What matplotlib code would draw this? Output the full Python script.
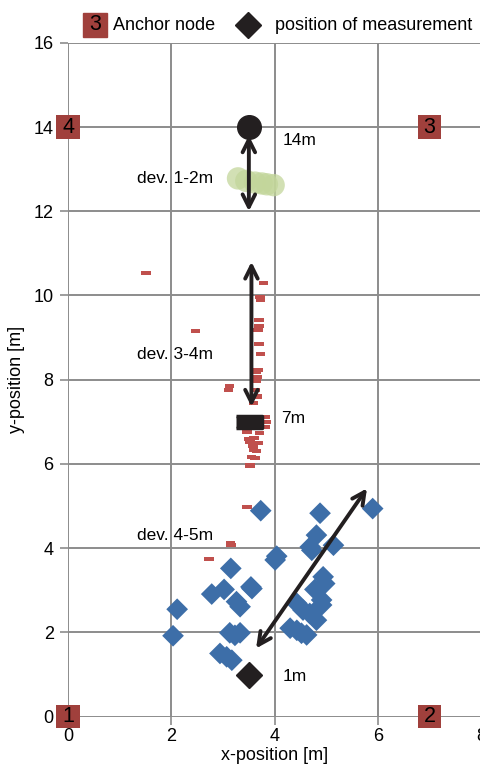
import matplotlib
matplotlib.use("Agg")
import matplotlib.pyplot as plt
from matplotlib.lines import Line2D
from matplotlib.markers import MarkerStyle
import numpy as np

plt.rcParams['font.family'] = ['Liberation Sans', 'DejaVu Sans']

# anchors
anchor_x = [0, 7, 7, 0]
anchor_y = [0, 0, 14, 14]
anchor_lbl = ["1", "2", "3", "4"]

# true measurement positions
meas_x = [3.5, 3.5, 3.5]
meas_y = [1, 7, 14]
meas_lbl = ["1m", "7m", "14m"]

# estimates at 14m (green)
g_x = [3.29, 3.45, 3.62, 3.75, 3.85, 3.98]
g_y = [12.78, 12.72, 12.68, 12.66, 12.64, 12.62]

# estimates at 7m (red)
r_x = [1.51, 3.78, 3.72, 3.73, 2.47, 3.70, 3.70, 3.68, 3.70, 3.73, 3.68, 3.65, 3.66,
       3.64, 3.12, 3.10, 3.62, 3.66, 3.59, 3.81, 3.84, 3.81, 3.46, 3.71, 3.52, 3.68,
       3.59, 3.65, 3.55, 3.62, 3.52, 3.46, 3.15, 3.14, 2.73, 3.60, 3.58, 3.70, 3.50]
r_y = [10.54, 10.30, 9.97, 9.89, 9.15, 9.42, 9.28, 9.18, 8.85, 8.61, 8.23, 8.19, 8.07,
       7.98, 7.85, 7.76, 7.76, 7.60, 7.44, 7.12, 7.00, 6.88, 6.77, 6.73, 6.53, 6.49,
       6.33, 6.30, 6.17, 6.14, 5.96, 4.98, 4.07, 4.11, 3.75, 6.62, 6.42, 6.95, 6.60]

# estimates at 1m (blue)
b_x = [3.73, 4.88, 5.90, 4.81, 4.01, 4.04, 3.15, 3.54, 3.56, 3.02, 2.78, 3.26, 3.33,
       2.11, 2.03, 3.13, 3.33, 3.23, 2.94, 3.07, 3.17, 4.30, 4.43, 4.52, 4.62, 4.43,
       4.55, 4.68, 4.81, 4.78, 4.94, 4.97, 4.91, 4.91, 4.72, 4.69, 5.14]
b_y = [4.89, 4.83, 4.94, 4.31, 3.72, 3.81, 3.52, 3.08, 3.04, 3.02, 2.91, 2.73, 2.61,
       2.55, 1.92, 1.99, 1.99, 1.93, 1.50, 1.42, 1.34, 2.10, 2.05, 1.98, 1.94, 2.69,
       2.53, 2.45, 2.29, 3.02, 3.32, 3.16, 2.77, 2.65, 3.95, 4.03, 4.07]

# deviation arrows
arr_start = [(3.5, 13.8), (3.55, 10.8), (5.79, 5.42)]
arr_end = [(3.5, 12.0), (3.55, 7.36), (3.64, 1.62)]

# annotations
dev_lbl = ["dev. 1-2m", "dev. 3-4m", "dev. 4-5m"]
dev_x = [2.07, 2.07, 2.07]
dev_y = [12.77, 8.59, 4.31]
meas_lbl_x = [4.15, 4.12, 4.15]
meas_lbl_y = [0.96, 7.08, 13.68]

fig = plt.figure(figsize=(4.81, 7.64), dpi=100)
ax = fig.add_axes([0.142, 0.062, 0.858, 0.882])

red = "#c0504d"
blue = "#3d6ea8"
green = "#c3d69b"
anchor_c = "#a0403c"
dark = "#231f20"

dash = [(-2.2, -1), (2.2, -1), (2.2, 1), (-2.2, 1)]
bar = MarkerStyle([(-2.2, -1), (2.2, -1), (2.2, 1), (-2.2, 1)], joinstyle='round')

ax.scatter(g_x, g_y, s=260, c=green, alpha=0.75, edgecolors='none', zorder=3)
ax.scatter(r_x, r_y, s=46, c=red, marker=dash, edgecolors='none', zorder=3)
ax.scatter(b_x, b_y, s=122, c=blue, marker='D', edgecolors='none', zorder=3)

ax.plot(meas_x[0], meas_y[0], marker='D', ms=13.5, color=dark, zorder=5)
ax.plot(meas_x[1], meas_y[1], marker=bar, ms=19, color=dark, mec=dark, mew=2.5, zorder=5)
ax.plot(meas_x[2], meas_y[2], marker='o', ms=17, color=dark, zorder=5)

for s, e in zip(arr_start, arr_end):
    ax.annotate("", xy=e, xytext=s,
                arrowprops=dict(arrowstyle='<->,head_length=0.9,head_width=0.45',
                                lw=2.8, color=dark, shrinkA=0, shrinkB=0),
                zorder=6)

ax.scatter(anchor_x, anchor_y, s=290, marker='s', c=anchor_c, edgecolors='none',
           zorder=7, clip_on=False)
for x, y, t in zip(anchor_x, anchor_y, anchor_lbl):
    ax.text(x, y, t, fontsize=15.5, ha='center', va='center', zorder=8)

for x, y, t in zip(dev_x, dev_y, dev_lbl):
    ax.text(x, y, t, fontsize=12.5, ha='center', va='center')
for x, y, t in zip(meas_lbl_x, meas_lbl_y, meas_lbl):
    ax.text(x, y, t, fontsize=12.5, ha='left', va='center')

ax.set_xlim(0, 8)
ax.set_ylim(0, 16)
ax.set_xticks(np.arange(0, 9, 2))
ax.set_yticks(np.arange(0, 17, 2))
ax.grid(True, color='#8c8c8c', lw=1.4)
ax.set_axisbelow(True)
for sp in ax.spines.values():
    sp.set_visible(False)
ax.tick_params(length=5.5, width=1.2, color='#8c8c8c', labelsize=13, pad=3)
ax.tick_params(axis='y', pad=5)
ax.set_xlabel("x-position [m]", fontsize=13, labelpad=1)
ax.set_ylabel("y-position [m]", fontsize=13, labelpad=6)

# legend drawn by hand above the axes
ly = 1 - 25 / 764
fig.add_artist(Line2D([95 / 481], [ly], marker='s', ms=17, color=anchor_c,
                      transform=fig.transFigure))
fig.text(95 / 481, ly, "3", fontsize=15.5, ha='center', va='center')
fig.text(113 / 481, ly, "Anchor node", fontsize=13, va='center')
fig.add_artist(Line2D([248 / 481], [ly], marker='D', ms=13.5, color=dark,
                      transform=fig.transFigure))
fig.text(275 / 481, ly, "position of measurement", fontsize=13, va='center')

fig.savefig("out.png", dpi=100)
